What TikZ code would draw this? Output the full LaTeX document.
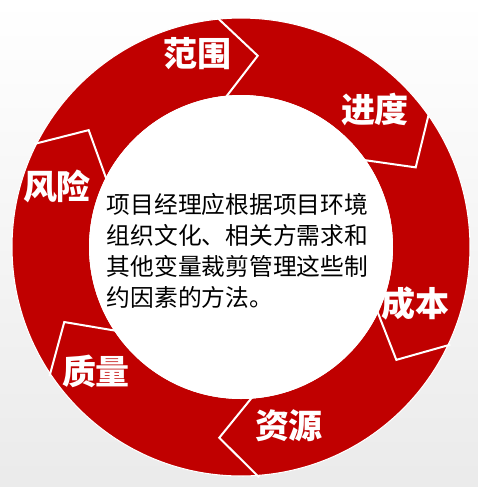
\documentclass[tikz,border=0pt]{standalone}
\usepackage{fontspec}
\newfontfamily\cjk{Noto Sans CJK SC}
\definecolor{ringred}{RGB}{192,0,0}
\begin{document}
\begin{tikzpicture}[x=0.75pt,y=0.75pt,yscale=-1,xscale=1,
    lbl/.style={text=white, inner sep=0.75pt, font=\cjk\bfseries\fontsize{25.5}{30}\selectfont},
    notch/.style={draw=white, line width=1.5pt, line join=miter}]
        \useasboundingbox (0,0) rectangle (478,487);
        %Shape: Background
        \shade [top color=white, bottom color=black!8] (0,0) rectangle (478,487);

        %Shape: Ring [id:ring]
        \fill [ringred, even odd rule] (241,247) circle (229) (241,247) circle (152);
        \draw [white, line width=0.8pt] (241,247) circle (229);
        %Shape: White disc
        \fill [white] (241,247) circle (152);

        %Straight Lines: chevrons between the parts
        \begin{scope}[shift={(241,247)}]
        \foreach \a in {-96,-35.5,25,85.5,146,206.5}
            \draw [notch] (\a:231) -- (\a+11:192) -- (\a:150) ;
        \end{scope}

        % Text Node
        \draw (198,54) node (scope) [lbl] {范围};
        % Text Node
        \draw (375,110) node (schedule) [lbl] {进度};
        % Text Node
        \draw (416,304) node (cost) [lbl] {成本};
        % Text Node
        \draw (289,426) node (resource) [lbl] {资源};
        % Text Node
        \draw (96,371) node (quality) [lbl] {质量};
        % Text Node
        \draw (57,186) node (risk) [lbl] {风险};
        % Text Node
        \draw (237.5,251) node (tailor) [inner sep=0.75pt, align=left, font=\cjk\fontsize{17.8}{23.25}\selectfont] {项目经理应根据项目环境\\组织文化、相关方需求和\\其他变量裁剪管理这些制\\约因素的方法。};

\end{tikzpicture}
\end{document}
